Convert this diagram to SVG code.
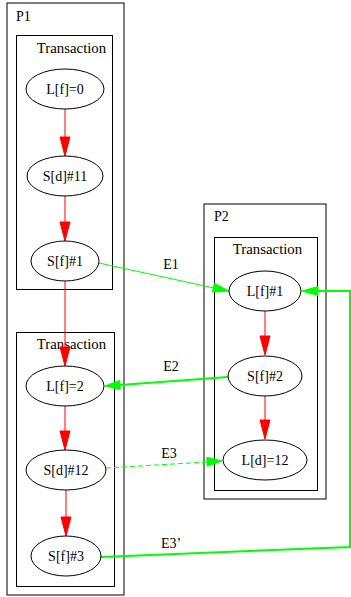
<svg xmlns="http://www.w3.org/2000/svg" width="351" height="597" viewBox="0 0 351 597">
<style>
text{font-family:"Liberation Serif","Times New Roman",serif;font-size:14px;fill:#000}
.c{text-anchor:middle}
.t{font-size:14.8px}
.box{fill:none;stroke:#000;stroke-width:1}
.n ellipse{fill:none;stroke:#000;stroke-width:1}
.r{stroke:#ff0000;stroke-width:1;fill:none}
.rh{fill:#ff0000;stroke:#ff0000;stroke-width:1}
.g{stroke:#00ff00;fill:none}
.gh{fill:#00ff00;stroke:#00ff00;stroke-width:1}
</style>
<rect width="351" height="597" fill="#fff"/>
<g id="clusters">
<g id="P1"><rect class="box" x="7" y="3" width="117" height="592"/><text x="16" y="21">P1</text></g>
<g id="P1_T1"><rect class="box" x="16.5" y="35.5" width="96" height="254"/><text class="c t" x="71.5" y="53">Transaction</text></g>
<g id="P1_T2"><rect class="box" x="16.5" y="332.5" width="98" height="254"/><text class="c t" x="71.5" y="349">Transaction</text></g>
<g id="P2"><rect class="box" x="204" y="204" width="122" height="295"/><text x="214" y="221">P2</text></g>
<g id="P2_T"><rect class="box" x="214.5" y="237.5" width="103" height="253"/><text class="c t" x="267.5" y="254">Transaction</text></g>
</g>
<g id="connectors">
<line class="r" x1="65" y1="109" x2="65" y2="137"/><polygon class="rh" points="65,156 60,137 70,137"/>
<line class="r" x1="65" y1="196" x2="65" y2="222"/><polygon class="rh" points="65,241 60,222 70,222"/>
<line class="r" x1="65" y1="281" x2="65" y2="347"/><polygon class="rh" points="65,366 60,347 70,347"/>
<line class="r" x1="65" y1="406" x2="65" y2="431"/><polygon class="rh" points="65,450 60,431 70,431"/>
<line class="r" x1="66" y1="490" x2="66" y2="517"/><polygon class="rh" points="66,536 61,517 71,517"/>
<line class="r" x1="265" y1="311" x2="265" y2="336"/><polygon class="rh" points="265,355 260,336 270,336"/>
<line class="r" x1="265" y1="396" x2="265" y2="420"/><polygon class="rh" points="265,439 260,420 270,420"/>
<g id="E1"><line class="g" stroke-width="1" x1="99" y1="263" x2="214" y2="288"/><polygon class="gh" points="229,291 214.4,283.3 212.4,292.1"/><text class="c" x="171" y="269">E1</text></g>
<g id="E2"><line class="g" stroke-width="2" x1="228" y1="377" x2="120" y2="385"/><polygon class="gh" points="105,386 120.3,389.4 119.7,380.4"/><text class="c" x="171" y="371">E2</text></g>
<g id="E3"><line class="g" stroke-width="1" stroke-dasharray="5,3" x1="106" y1="468" x2="207" y2="462"/><polygon class="gh" points="222,461 207.2,466.3 206.8,457.3"/><text class="c" x="169" y="458">E3</text></g>
<g id="E3p"><polyline class="g" stroke-width="2" points="101,557 350,547 350,291 317,291"/><polygon class="gh" points="302,291 318,286.5 318,295.5"/><text x="161" y="548">E3’</text></g>
</g>
<g id="n_Lf0" class="n"><ellipse cx="65" cy="89" rx="39" ry="20"/><text class="c" x="65" y="94">L[f]=0</text></g>
<g id="n_Sd11" class="n"><ellipse cx="65" cy="176" rx="38" ry="20"/><text class="c" x="65" y="181">S[d]#11</text></g>
<g id="n_Sf1" class="n"><ellipse cx="65" cy="261" rx="34" ry="20"/><text class="c" x="65" y="266">S[f]#1</text></g>
<g id="n_Lf2" class="n"><ellipse cx="65" cy="386" rx="39" ry="20"/><text class="c" x="65" y="391">L[f]=2</text></g>
<g id="n_Sd12" class="n"><ellipse cx="66" cy="470" rx="40" ry="20"/><text class="c" x="66" y="475">S[d]#12</text></g>
<g id="n_Sf3" class="n"><ellipse cx="66" cy="556" rx="35" ry="20"/><text class="c" x="66" y="561">S[f]#3</text></g>
<g id="n_Lf1" class="n"><ellipse cx="265" cy="291" rx="36" ry="20"/><text class="c" x="265" y="296">L[f]#1</text></g>
<g id="n_Sf2" class="n"><ellipse cx="265" cy="376" rx="37" ry="20"/><text class="c" x="265" y="381">S[f]#2</text></g>
<g id="n_Ld12" class="n"><ellipse cx="265" cy="460" rx="42" ry="20"/><text class="c" x="265" y="465">L[d]=12</text></g>
</svg>
